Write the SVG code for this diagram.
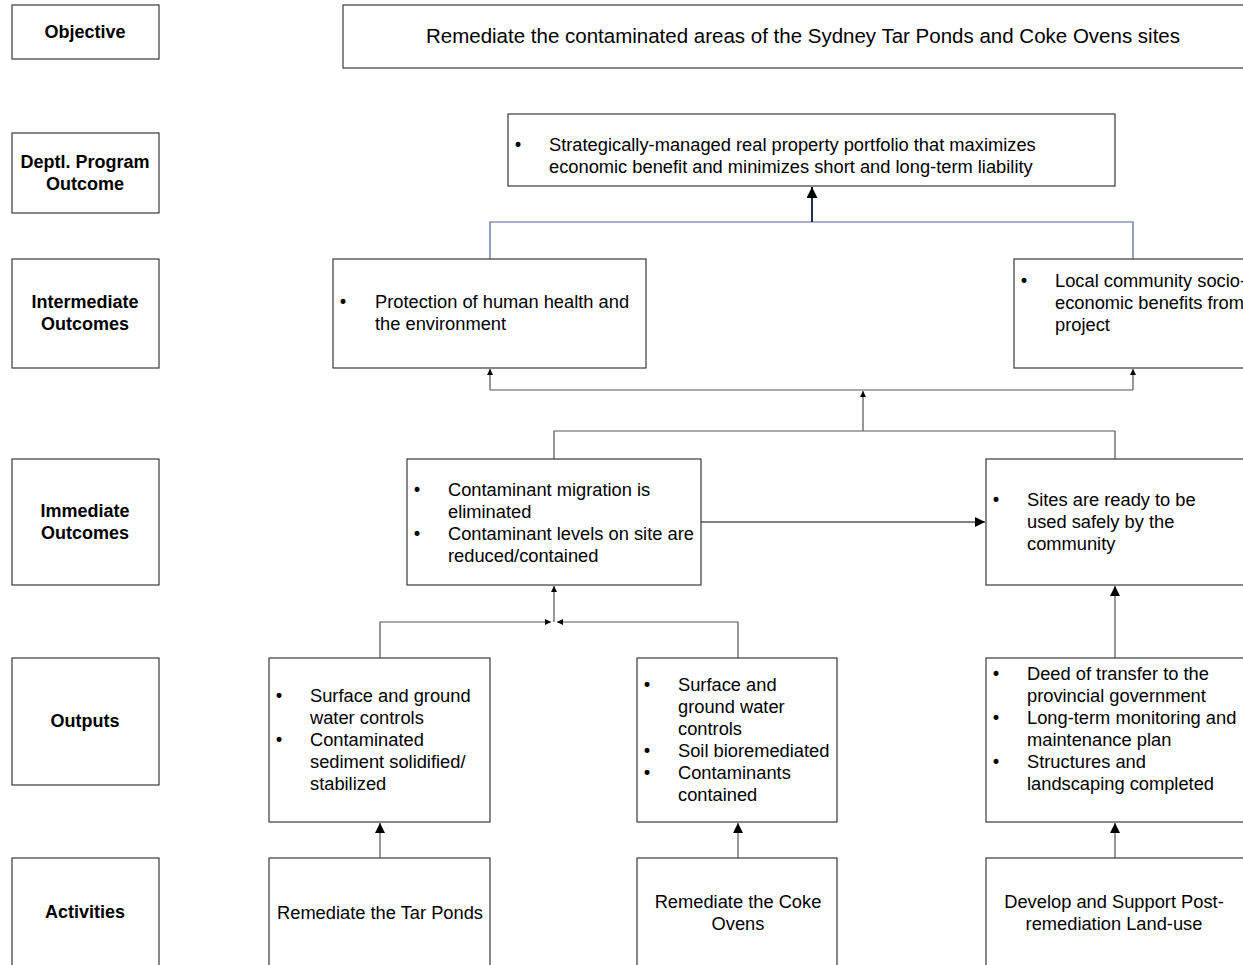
<svg xmlns="http://www.w3.org/2000/svg" width="1243" height="965" viewBox="0 0 1243 965">
<style>
.box{fill:#fff;stroke:#3a3a3a;stroke-width:1.2}
.lbl{font-family:"Liberation Sans",Arial,sans-serif;font-size:18px;font-weight:bold;fill:#000;text-anchor:middle}
.t{font-family:"Liberation Sans",Arial,sans-serif;font-size:18.3px;fill:#000}
.b{font-family:"DejaVu Sans",sans-serif;font-size:17px;fill:#000}
.c{text-anchor:middle}
.ln{fill:none;stroke:#555;stroke-width:1.2}
.blue{fill:none;stroke:#4a6496;stroke-width:1.2}
</style>
<defs>
<marker id="big" viewBox="0 0 10 10" refX="10" refY="5" markerWidth="10" markerHeight="10" markerUnits="userSpaceOnUse" orient="auto"><path d="M0,0L10,5L0,10z" fill="#000"/></marker>
<marker id="sm" viewBox="0 0 10 10" refX="10" refY="5" markerWidth="7" markerHeight="6" markerUnits="userSpaceOnUse" orient="auto"><path d="M0,0L10,5L0,10z" fill="#000"/></marker>
<marker id="nv" viewBox="0 0 10 10" refX="10" refY="5" markerWidth="11" markerHeight="11" markerUnits="userSpaceOnUse" orient="auto"><path d="M0,0L10,5L0,10z" fill="#000"/></marker>
</defs>

<g id="row-labels">
<g id="lbl-objective"><rect class="box" x="12" y="5" width="147" height="54"/><text class="lbl" x="85" y="38">Objective</text></g>
<g id="lbl-deptl"><rect class="box" x="12" y="133" width="147" height="80"/><text class="lbl" x="85" y="168">Deptl. Program</text><text class="lbl" x="85" y="190">Outcome</text></g>
<g id="lbl-intermediate"><rect class="box" x="12" y="259" width="147" height="109"/><text class="lbl" x="85" y="308">Intermediate</text><text class="lbl" x="85" y="330">Outcomes</text></g>
<g id="lbl-immediate"><rect class="box" x="12" y="459" width="147" height="126"/><text class="lbl" x="85" y="517">Immediate</text><text class="lbl" x="85" y="539">Outcomes</text></g>
<g id="lbl-outputs"><rect class="box" x="12" y="658" width="147" height="127"/><text class="lbl" x="85" y="727">Outputs</text></g>
<g id="lbl-activities"><rect class="box" x="12" y="858" width="147" height="120"/><text class="lbl" x="85" y="918">Activities</text></g>
</g>

<g id="connectors">
<polyline class="blue" points="490,259 490,222 1133,222 1133,259"/>
<line x1="812" y1="222" x2="812" y2="187" stroke="#1f3050" stroke-width="2" marker-end="url(#nv)"/>
<polyline class="ln" points="490,390 1133,390"/>
<line class="ln" x1="490" y1="390" x2="490" y2="369" marker-end="url(#sm)"/>
<line class="ln" x1="1133" y1="390" x2="1133" y2="369" marker-end="url(#sm)"/>
<line class="ln" x1="863" y1="431" x2="863" y2="391" marker-end="url(#sm)"/>
<polyline class="ln" points="554,459 554,431 1115,431 1115,459"/>
<line x1="701" y1="522" x2="985" y2="522" stroke="#000" stroke-width="1.2" marker-end="url(#big)"/>
<line class="ln" x1="554" y1="622" x2="554" y2="586" marker-end="url(#sm)"/>
<polyline class="ln" points="380,658 380,622 551,622" marker-end="url(#sm)"/>
<polyline class="ln" points="738,658 738,622 557,622" marker-end="url(#sm)"/>
<line class="ln" x1="1115" y1="658" x2="1115" y2="586" marker-end="url(#big)"/>
<line class="ln" x1="380" y1="858" x2="380" y2="823" marker-end="url(#big)"/>
<line class="ln" x1="738" y1="858" x2="738" y2="823" marker-end="url(#big)"/>
<line class="ln" x1="1115" y1="858" x2="1115" y2="823" marker-end="url(#big)"/>
</g>

<g id="objective">
<rect class="box" x="343" y="5" width="920" height="63"/>
<text class="t c" x="803" y="43" style="font-size:20.5px">Remediate the contaminated areas of the Sydney Tar Ponds and Coke Ovens sites</text>
</g>

<g id="dept-outcome">
<rect class="box" x="508" y="114" width="607" height="72"/>
<text class="b" x="513" y="151">•</text>
<text class="t"><tspan x="549" y="151">Strategically-managed real property portfolio that maximizes</tspan><tspan x="549" y="173">economic benefit and minimizes short and long-term liability</tspan></text>
</g>

<g id="int-protection">
<rect class="box" x="333" y="259" width="313" height="109"/>
<text class="b" x="338" y="308">•</text>
<text class="t"><tspan x="375" y="308">Protection of human health and</tspan><tspan x="375" y="330">the environment</tspan></text>
</g>

<g id="int-community">
<rect class="box" x="1014" y="259" width="250" height="109"/>
<text class="b" x="1019" y="287">•</text>
<text class="t"><tspan x="1055" y="287">Local community socio-</tspan><tspan x="1055" y="309">economic benefits from</tspan><tspan x="1055" y="331">project</tspan></text>
</g>

<g id="imm-contaminant">
<rect class="box" x="407" y="459" width="294" height="126"/>
<text class="b" x="412" y="496">•</text>
<text class="b" x="412" y="540">•</text>
<text class="t"><tspan x="448" y="496">Contaminant migration is</tspan><tspan x="448" y="518">eliminated</tspan><tspan x="448" y="540">Contaminant levels on site are</tspan><tspan x="448" y="562">reduced/contained</tspan></text>
</g>

<g id="imm-sites">
<rect class="box" x="986" y="459" width="280" height="126"/>
<text class="b" x="991" y="506">•</text>
<text class="t"><tspan x="1027" y="506">Sites are ready to be</tspan><tspan x="1027" y="528">used safely by the</tspan><tspan x="1027" y="550">community</tspan></text>
</g>

<g id="out-tarponds">
<rect class="box" x="269" y="658" width="221" height="164"/>
<text class="b" x="274" y="702">•</text>
<text class="b" x="274" y="746">•</text>
<text class="t"><tspan x="310" y="702">Surface and ground</tspan><tspan x="310" y="724">water controls</tspan><tspan x="310" y="746">Contaminated</tspan><tspan x="310" y="768">sediment solidified/</tspan><tspan x="310" y="790">stabilized</tspan></text>
</g>

<g id="out-cokeovens">
<rect class="box" x="637" y="658" width="200" height="164"/>
<text class="b" x="642" y="691">•</text>
<text class="b" x="642" y="757">•</text>
<text class="b" x="642" y="779">•</text>
<text class="t"><tspan x="678" y="691">Surface and</tspan><tspan x="678" y="713">ground water</tspan><tspan x="678" y="735">controls</tspan><tspan x="678" y="757">Soil bioremediated</tspan><tspan x="678" y="779">Contaminants</tspan><tspan x="678" y="801">contained</tspan></text>
</g>

<g id="out-landuse">
<rect class="box" x="986" y="658" width="280" height="164"/>
<text class="b" x="991" y="680">•</text>
<text class="b" x="991" y="724">•</text>
<text class="b" x="991" y="768">•</text>
<text class="t"><tspan x="1027" y="680">Deed of transfer to the</tspan><tspan x="1027" y="702">provincial government</tspan><tspan x="1027" y="724">Long-term monitoring and</tspan><tspan x="1027" y="746">maintenance plan</tspan><tspan x="1027" y="768">Structures and</tspan><tspan x="1027" y="790">landscaping completed</tspan></text>
</g>

<g id="act-tarponds">
<rect class="box" x="269" y="858" width="221" height="120"/>
<text class="t c" x="380" y="919">Remediate the Tar Ponds</text>
</g>

<g id="act-cokeovens">
<rect class="box" x="637" y="858" width="200" height="120"/>
<text class="t c"><tspan x="738" y="908">Remediate the Coke</tspan><tspan x="738" y="930">Ovens</tspan></text>
</g>

<g id="act-landuse">
<rect class="box" x="986" y="858" width="280" height="120"/>
<text class="t c"><tspan x="1114" y="908">Develop and Support Post-</tspan><tspan x="1114" y="930">remediation Land-use</tspan></text>
</g>
</svg>
